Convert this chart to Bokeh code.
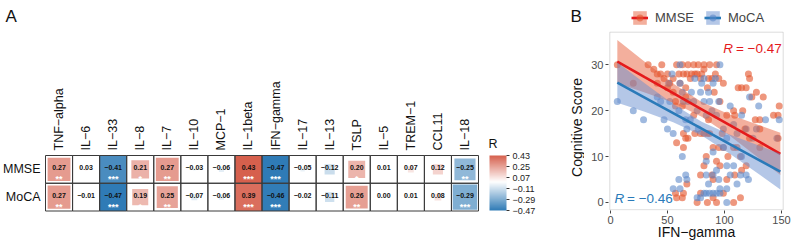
import numpy as np
from bokeh.plotting import figure
from bokeh.layouts import row
from bokeh.models import (ColumnDataSource, LinearColorMapper, ColorBar, FixedTicker,
                          Label, Legend, LegendItem, Range1d, AllLabels, BoxAnnotation)
from bokeh.core.properties import value
from bokeh.embed import file_html
from bokeh.resources import INLINE

# ---------------- data ----------------
cytokines = ["TNF−alpha", "IL−6", "IL−33", "IL−8", "IL−7", "IL−10", "MCP−1", "IL−1beta",
             "IFN−gamma", "IL−17", "IL−13", "TSLP", "IL−5", "TREM−1", "CCL11", "IL−18"]
scores = ["MMSE", "MoCA"]
r_mmse = [0.27, 0.03, -0.41, 0.21, 0.27, -0.03, -0.06, 0.43, -0.47, -0.05, -0.12, 0.20, 0.01, 0.07, 0.12, -0.25]
r_moca = [0.27, -0.01, -0.47, 0.19, 0.25, -0.07, -0.06, 0.39, -0.46, -0.02, -0.11, 0.26, 0.00, 0.01, 0.08, -0.29]
sig_mmse = ["**", "", "***", "*", "**", "", "", "***", "***", "", "", "*", "", "", "", "**"]
sig_moca = ["**", "", "***", "*", "**", "", "", "***", "***", "", "", "**", "", "", "", "***"]
cbar_ticks = [0.43, 0.25, 0.07, -0.11, -0.29, -0.47]

mmse_x = [6, 20, 33, 38, 41, 44, 45, 47, 50, 50, 52, 55, 55, 57, 58, 60, 61, 63, 64, 66,
          66, 67, 68, 70, 71, 73, 74, 76, 77, 79, 80, 82, 82, 85, 86, 87, 89, 91, 92, 93,
          95, 96, 99, 102, 108, 109, 112, 115, 116, 119, 121, 122, 124, 128, 134, 127, 131, 143, 147, 148,
          147, 41, 57, 63, 64, 66, 64, 58, 68, 73, 74, 79, 82, 85, 86, 87, 90, 95, 98, 99,
          103, 84, 82, 93, 96, 108, 111, 114, 115, 109, 102, 90, 89, 79, 67, 64, 63, 57, 58, 76,
          85, 93, 108, 99, 114, 79, 90, 119, 131, 122, 131, 118]
mmse_y = [30, 26, 30, 29, 28, 28, 30, 27, 28, 25, 26, 27, 24, 22, 30, 28, 26, 30, 28, 25,
          23, 28, 30, 27, 28, 30, 28, 28, 30, 27, 28, 30, 29, 25, 27, 30, 27, 24, 28, 30,
          27, 22, 26, 19, 20, 19, 25, 25, 20, 25, 28, 27, 23, 24, 23, 18, 16, 19, 19, 21,
          14, 26, 21, 21, 15, 14, 12, 13, 14, 19, 15, 15, 15, 15, 18, 15, 12, 12, 15, 12,
          10, 10, 8, 9, 8, 12, 12, 10, 7, 6, 5, 5, 6, 6, 4, 2, 1, 2, 1, 0,
          0, 0, 0, 2, 1, 2, 1, 8, 12, 14, 18, 16]
moca_x = [6, 20, 29, 41, 44, 47, 50, 52, 51, 54, 55, 60, 61, 61, 63, 64, 66, 67, 68, 70,
          71, 73, 74, 76, 77, 79, 80, 82, 82, 84, 86, 87, 89, 90, 92, 93, 95, 96, 99, 102,
          108, 105, 111, 115, 119, 122, 125, 128, 130, 146, 148, 136,
          60, 61, 66, 67, 55, 63, 84, 86, 90, 93, 95, 96, 102, 105, 108, 114, 119, 121, 111, 84,
          87, 90, 93, 96, 79, 82, 76, 102, 84, 90, 99, 102, 115]
moca_y = [22, 20, 18, 23, 22, 18, 16, 22, 26, 28, 15, 20, 30, 26, 24, 22, 18, 16, 22, 18,
          24, 22, 27, 20, 16, 24, 26, 22, 27, 19, 24, 22, 20, 26, 27, 19, 22, 30, 16, 14,
          17, 21, 15, 19, 16, 23, 14, 16, 21, 14, 18, 18,
          5, 3, 6, 5, 3, 10, 6, 4, 6, 7, 5, 3, 3, 6, 8, 6, 6, 5, 4, 2,
          2, 2, 2, 2, 1, 2, 1, 0, 9, 11, 12, 8, 10]

# fitted lines and 95% bands
band_x = [6, 30, 55, 80, 105, 130, 149]
mmse_fit = [30.7, 27.3, 23.8, 20.3, 16.8, 13.3, 10.6]
mmse_lo = [26.0, 23.95, 21.7, 18.7, 14.5, 9.7, 6.0]
mmse_hi = [35.4, 30.65, 25.9, 21.9, 19.1, 16.9, 15.2]
moca_fit = [26.1, 22.85, 19.46, 16.07, 12.68, 9.3, 6.7]
moca_lo = [21.7, 19.75, 17.46, 14.57, 10.58, 6.2, 2.8]
moca_hi = [30.5, 25.95, 21.46, 17.57, 14.78, 12.4, 10.6]
r_labels = ["−0.47", "−0.46"]

FONT = "Liberation Sans"


def hex2rgb(h):
    h = h.lstrip("#")
    return [int(h[i:i + 2], 16) for i in (0, 2, 4)]


def build_palette(low, mid, high, zero_pos, n=256):
    lo, mi, hi = hex2rgb(low), hex2rgb(mid), hex2rgb(high)
    out = []
    for i in range(n):
        t = i / (n - 1)
        if t <= zero_pos:
            f = t / zero_pos
            c = [lo[k] + (mi[k] - lo[k]) * f for k in range(3)]
        else:
            f = (t - zero_pos) / (1 - zero_pos)
            c = [mi[k] + (hi[k] - mi[k]) * f for k in range(3)]
        out.append("#%02x%02x%02x" % tuple(int(round(v)) for v in c))
    return out


low_v, high_v = min(cbar_ticks), max(cbar_ticks)
palette = build_palette("#2f7bb6", "#ffffff", "#d6604d", (0 - low_v) / (high_v - low_v))
mapper = LinearColorMapper(palette=palette, low=low_v, high=high_v)

# ---------------- heatmap (A) : frame covers the whole canvas ----------------
ncol = len(cytokines)
col_pos = [i + 0.5 for i in range(ncol)]
row_pos = {"MMSE": 1.5, "MoCA": 0.5}
xs = col_pos + col_pos
ys = [row_pos["MMSE"]] * ncol + [row_pos["MoCA"]] * ncol
rs = r_mmse + r_moca
sigs = sig_mmse + sig_moca
fmt = [("%.2f" % v).replace("-", "−") for v in rs]
side = [min(1.0, abs(v) / 0.32) for v in rs]
src = ColumnDataSource(dict(x=xs, y=ys, r=rs, sig=sigs, lab=fmt, side=side,
                            ylab=[y + 0.05 for y in ys], ysig=[y - 0.36 for y in ys]))

W1 = 584
CW, RH = 433 / 16.0, 55.5 / 2.0          # pixel size of a cell
p1 = figure(width=W1, height=250,
            x_range=Range1d(-45 / CW, (W1 - 45) / CW),
            y_range=Range1d(-(250 - 210.5) / RH, 2 + 155 / RH),
            output_backend="svg", toolbar_location=None,
            min_border_left=0, min_border_right=0, min_border_top=0, min_border_bottom=0)
p1.frame_align = False
p1.title.visible = False
p1.axis.visible = False
p1.grid.visible = False
p1.outline_line_color = None
p1.rect("x", "y", width="side", height="side", source=src,
        fill_color={"field": "r", "transform": mapper}, line_color=None)
p1.rect("x", "y", width=1, height=1, source=src, fill_color=None,
        line_color="#3a3a3a", line_width=1)
p1.text(x="x", y="ylab", text="lab", source=src,
        text_font=value(FONT), text_font_size="7px", text_font_style="bold",
        text_align="center", text_baseline="middle", text_color="#111111")
p1.text(x="x", y="ysig", text="sig", source=src,
        text_font=value(FONT), text_font_size="9px", text_font_style="bold",
        text_align="center", text_baseline="middle", text_color="#ffffff")
# column and row labels
p1.text(x=col_pos, y=[2 + 5 / RH] * ncol, text=cytokines, angle=np.pi / 2,
        text_font=value(FONT), text_font_size="12.5px", text_align="left",
        text_baseline="middle", text_color="#111111")
p1.text(x=[-5 / CW] * 2, y=[row_pos[s] for s in scores], text=scores,
        text_font=value(FONT), text_font_size="12.5px", text_align="right",
        text_baseline="middle", text_color="#111111")
# colour-bar title, panel letters and y title of panel B (drawn on this canvas)
p1.text(x=[(488 - 45) / CW], y=[(210.5 - 143) / RH], text=["R"],
        text_font=value(FONT), text_font_size="12.5px", text_align="left",
        text_baseline="alphabetic", text_color="#111111")
p1.text(x=[(5 - 45) / CW, (570 - 45) / CW], y=[(210.5 - 16) / RH] * 2, text=["A", "B"],
        text_font=value(FONT), text_font_size="17px", text_align="left",
        text_baseline="alphabetic", text_color="#111111")
p1.text(x=[(576 - 45) / CW], y=[(210.5 - 127) / RH], text=["Cognitive Score"], angle=np.pi / 2,
        text_font=value(FONT), text_font_size="14px", text_align="center",
        text_baseline="middle", text_color="#111111")

cb = ColorBar(color_mapper=mapper, ticker=FixedTicker(ticks=cbar_ticks),
              major_label_overrides={t: ("%.2f" % t).replace("-", "−") for t in cbar_ticks},
              major_label_policy=AllLabels(),
              width=17, height=55, padding=0, margin=0, location=(489, 40),
              label_standoff=3, major_tick_out=3, major_tick_in=0,
              major_tick_line_color="#333333", minor_tick_line_color=None,
              major_label_text_font=FONT, major_label_text_font_size="9px",
              major_label_text_color="#222222", bar_line_color=None,
              border_line_color=None, background_fill_color=None)
p1.add_layout(cb, "center")

# ---------------- scatter (B) ----------------
W2 = 794 - W1
SX = 173.4 / 152.1
SY = 4.589
p2 = figure(width=W2, height=250,
            x_range=Range1d(-0.6 - 1.3 / SX, 151.5 + 1.3 / SX),
            y_range=Range1d(-1.6 - 0.7 / SY, 37.1 + 31.7 / SY),
            output_backend="svg", toolbar_location=None,
            min_border_left=24, min_border_right=10, min_border_top=0, min_border_bottom=40)
p2.frame_align = False
p2.title.visible = False
p2.grid.visible = False
p2.outline_line_color = None
p2.add_layout(BoxAnnotation(left=-0.6, right=151.5, bottom=-1.6, top=37.1, fill_alpha=0,
                            line_color="#8a8a8a", line_width=1))

RED_PT, BLUE_PT = "#e4572e", "#5a86c8"
pts1 = p2.scatter(mmse_x, mmse_y, size=7, fill_color=RED_PT, fill_alpha=0.62, line_color=None)
pts2 = p2.scatter(moca_x, moca_y, size=7, fill_color=BLUE_PT, fill_alpha=0.58, line_color=None)
band1 = p2.varea(x=band_x, y1=mmse_lo, y2=mmse_hi, fill_color="#e8603c", fill_alpha=0.5)
line1 = p2.line(band_x, mmse_fit, line_color="#e41a1c", line_width=2.6)
band2 = p2.varea(x=band_x, y1=moca_lo, y2=moca_hi, fill_color="#6a8fd0", fill_alpha=0.5)
line2 = p2.line(band_x, moca_fit, line_color="#2a7ab9", line_width=2.6)

p2.xaxis.ticker = FixedTicker(ticks=[0, 50, 100, 150])
p2.yaxis.ticker = FixedTicker(ticks=[0, 10, 20, 30])
for ax in (p2.xaxis[0], p2.yaxis[0]):
    ax.axis_line_color = None
    ax.major_tick_line_color = "#444444"
    ax.major_tick_out = 3
    ax.major_tick_in = 0
    ax.minor_tick_line_color = None
    ax.minor_tick_out = 0
    ax.major_label_text_font = FONT
    ax.major_label_text_font_size = "11px"
    ax.major_label_text_color = "#4d4d4d"
    ax.axis_label_text_font = FONT
    ax.axis_label_text_font_size = "14px"
    ax.axis_label_text_font_style = "normal"
    ax.axis_label_text_color = "#111111"
    ax.major_label_standoff = 2
p2.xaxis.axis_label = "IFN−gamma"
p2.xaxis.axis_label_standoff = -3

legend = Legend(items=[LegendItem(label="MMSE", renderers=[band1, line1, pts1]),
                       LegendItem(label="MoCA", renderers=[band2, line2, pts2])],
                orientation="horizontal", location=(23, 184), glyph_width=17, glyph_height=17,
                label_text_font=FONT, label_text_font_size="13px", spacing=10, padding=2,
                margin=0, border_line_color=None, background_fill_alpha=0, label_standoff=7)
p2.add_layout(legend, "center")

p2.add_layout(Label(x=99.0, y=33.5, text="R", text_font=FONT, text_font_size="13.5px",
                    text_font_style="italic", text_color="#e41a1c", text_baseline="alphabetic"))
p2.add_layout(Label(x=110.0, y=33.5, text="= " + r_labels[0], text_font=FONT, text_font_size="13.5px",
                    text_color="#e41a1c", text_baseline="alphabetic"))
p2.add_layout(Label(x=3.5, y=0.85, text="R", text_font=FONT, text_font_size="13.5px",
                    text_font_style="italic", text_color="#2a7ab9", text_baseline="alphabetic"))
p2.add_layout(Label(x=14.5, y=0.85, text="= " + r_labels[1], text_font=FONT, text_font_size="13.5px",
                    text_color="#2a7ab9", text_baseline="alphabetic"))

layout = row(p1, p2)
open("out.html", "w").write(file_html(layout, INLINE))
